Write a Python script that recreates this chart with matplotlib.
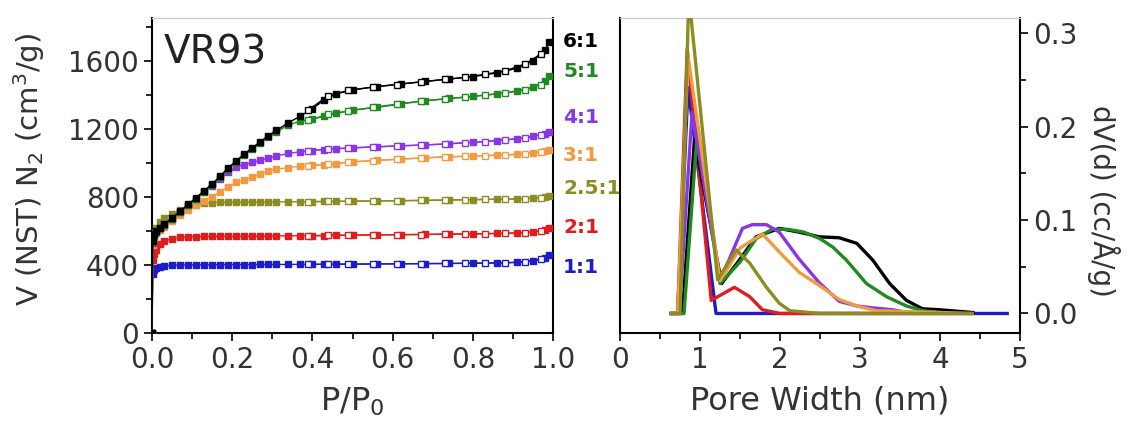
import matplotlib
matplotlib.use("Agg")
import matplotlib.pyplot as plt
from matplotlib.ticker import MultipleLocator

plt.rcParams['font.family'] = ['DejaVu Sans']

# N2 isotherms (relative pressure vs. uptake, cm3/g STP)
P_ADS = [0, .002, .005, .01, .02, .03, .05, .07, .09, .11, .13, .15, .17, .19,
         .21, .23, .25, .27, .29, .31, .34, .37, .40, .43, .46, .50, .56, .62,
         .68, .74, .80, .86, .91, .95, .98, .99]
P_DES = [.97, .93, .88, .83, .78, .73, .67, .61, .55, .49, .44, .39]

ADS_6 = [0, 540, 580, 600, 620, 640, 676, 716, 756, 796, 836, 876, 922, 970,
         1012, 1052, 1088, 1124, 1160, 1190, 1235, 1275, 1318, 1370, 1405, 1429,
         1447, 1463, 1478, 1492, 1506, 1528, 1555, 1600, 1660, 1712]
ADS_5 = [0, 535, 575, 595, 615, 635, 670, 710, 750, 790, 830, 870, 915, 962,
         1005, 1045, 1080, 1116, 1150, 1180, 1222, 1245, 1255, 1275, 1290, 1310,
         1325, 1345, 1365, 1378, 1390, 1405, 1420, 1445, 1480, 1510]
ADS_4 = [0, 530, 570, 595, 615, 635, 672, 710, 750, 790, 828, 866, 905, 945,
         975, 990, 1002, 1015, 1028, 1040, 1055, 1065, 1072, 1078, 1083, 1088,
         1094, 1100, 1105, 1112, 1120, 1130, 1140, 1155, 1170, 1182]
ADS_3 = [0, 520, 560, 585, 605, 625, 660, 695, 725, 752, 778, 800, 830, 860,
         885, 900, 918, 935, 952, 962, 972, 980, 985, 990, 996, 1006, 1015, 1022,
         1030, 1036, 1040, 1045, 1050, 1058, 1068, 1076]
ADS_25 = [0, 560, 590, 620, 655, 675, 700, 725, 745, 755, 762, 766, 768, 768,
          768, 768, 769, 769, 770, 770, 771, 771, 772, 773, 774, 775, 776, 778,
          780, 782, 784, 786, 788, 792, 800, 805]
ADS_2 = [0, 430, 465, 490, 525, 540, 555, 562, 565, 567, 568, 568, 569, 569,
         569, 570, 570, 570, 570, 571, 571, 572, 572, 573, 574, 575, 577, 578,
         580, 581, 583, 585, 588, 594, 605, 615]
ADS_1 = [0, 350, 370, 382, 390, 395, 398, 400, 400, 401, 401, 401, 402, 402,
         402, 402, 402, 403, 403, 403, 403, 404, 404, 404, 405, 405, 406, 407,
         408, 409, 410, 412, 415, 422, 440, 458]

DES_6 = [1640, 1580, 1540, 1520, 1502, 1490, 1475, 1460, 1445, 1425, 1395, 1310]
DES_5 = [1460, 1430, 1410, 1398, 1385, 1375, 1362, 1345, 1325, 1305, 1285, 1250]
DES_4 = [1165, 1148, 1135, 1125, 1118, 1110, 1104, 1099, 1093, 1087, 1080, 1070]
DES_3 = [1065, 1052, 1046, 1042, 1038, 1034, 1028, 1020, 1013, 1004, 994, 984]
DES_25 = [796, 790, 787, 785, 783, 781, 779, 777, 776, 774, 773, 772]
DES_2 = [600, 590, 586, 584, 582, 581, 579, 578, 577, 575, 574, 572]
DES_1 = [435, 418, 413, 411, 410, 409, 408, 407, 406, 405, 404, 404]

# pore size distributions (nm vs. dV(d))
W_6 = [0.64, 0.78, 0.93, 1.27, 1.49, 1.70, 1.99, 2.24, 2.49, 2.74, 2.96, 3.16,
       3.37, 3.58, 3.78, 3.99, 4.41]
D_6 = [0, 0, 0.186, 0.032, 0.057, 0.082, 0.091, 0.087, 0.082, 0.081, 0.075,
       0.057, 0.032, 0.014, 0.005, 0.004, 0.001]
W_5 = [0.70, 0.80, 0.97, 1.25, 1.50, 1.70, 1.90, 2.10, 2.30, 2.50, 2.66, 2.83,
       3.08, 3.33, 3.58, 3.78, 4.00]
D_5 = [0, 0, 0.200, 0.032, 0.055, 0.080, 0.090, 0.090, 0.087, 0.080, 0.071,
       0.057, 0.032, 0.018, 0.008, 0.003, 0.001]
W_4 = [0.66, 0.74, 0.90, 1.25, 1.53, 1.65, 1.83, 1.99, 2.24, 2.49, 2.74, 2.96,
       3.16, 3.40, 3.60]
D_4 = [0, 0, 0.215, 0.035, 0.091, 0.095, 0.095, 0.087, 0.058, 0.033, 0.013,
       0.008, 0.006, 0.004, 0.001]
W_3 = [0.64, 0.72, 0.85, 1.25, 1.50, 1.78, 2.00, 2.24, 2.49, 2.74, 2.96, 3.20, 4.40]
D_3 = [0, 0, 0.275, 0.035, 0.070, 0.085, 0.065, 0.044, 0.030, 0.015, 0.008,
       0.003, 0.0]
W_25 = [0.64, 0.75, 0.86, 1.22, 1.45, 1.62, 1.83, 1.99, 2.12, 2.50, 4.40]
D_25 = [0, 0, 0.34, 0.036, 0.068, 0.054, 0.028, 0.011, 0.003, 0.0, 0.0]
W_2 = [0.64, 0.72, 0.84, 1.14, 1.43, 1.62, 1.78, 2.00, 4.40]
D_2 = [0, 0, 0.283, 0.014, 0.028, 0.018, 0.004, 0.0, 0.0]
W_1 = [0.64, 0.72, 0.85, 1.20, 2.00, 4.84]
D_1 = [0, 0, 0.242, 0.0, 0.0, 0.0]

RATIOS = ['6:1', '5:1', '4:1', '3:1', '2.5:1', '2:1', '1:1']
COLORS = ['#000000', '#1f8a1f', '#8a35e8', '#f29a40', '#8c8c22', '#e01c1c', '#1c1cc8']
ADS = [ADS_6, ADS_5, ADS_4, ADS_3, ADS_25, ADS_2, ADS_1]
DES = [DES_6, DES_5, DES_4, DES_3, DES_25, DES_2, DES_1]
WIDTHS = [W_6, W_5, W_4, W_3, W_25, W_2, W_1]
DVD = [D_6, D_5, D_4, D_3, D_25, D_2, D_1]

TXT = '#333333'

fig = plt.figure(figsize=(11.3, 4.36), dpi=100)
ax1 = fig.add_axes([0.1345, 0.236, 0.3549, 0.7225])
ax2 = fig.add_axes([0.5487, 0.236, 0.354, 0.7225])

# isotherms, drawn bottom-up so the 6:1 curve sits on top
for i in reversed(range(len(RATIOS))):
    c = COLORS[i]
    ax1.plot(P_ADS, ADS[i], '-s', color=c, lw=1, ms=4.5, mec=c, mfc=c, zorder=3)
    ax1.plot(P_DES, DES[i], '-s', color=c, lw=1, ms=4.5, mec=c, mfc='white',
             mew=1, zorder=3)

ax1.set_xlim(0, 1.0)
ax1.set_ylim(0, 1850)
ax1.xaxis.set_major_locator(MultipleLocator(0.2))
ax1.xaxis.set_minor_locator(MultipleLocator(0.1))
ax1.yaxis.set_major_locator(MultipleLocator(400))
ax1.yaxis.set_minor_locator(MultipleLocator(200))
ax1.xaxis.set_major_formatter(lambda v, p: f'{v:.1f}')
ax1.tick_params(which='both', direction='out', labelsize=20, labelcolor=TXT, width=1.2)
ax1.tick_params(which='major', length=6)
ax1.tick_params(which='minor', length=4)
ax1.set_xlabel('P/P$_0$', fontsize=23, color=TXT, labelpad=8)
ax1.set_ylabel('V (NST) N$_2$ (cm$^3$/g)', fontsize=21, color=TXT)
ax1.yaxis.set_label_coords(-0.262, 0.52)
ax1.text(0.03, 0.89, 'VR93', transform=ax1.transAxes, fontsize=28,
         color='#222222', va='center')

# ratio labels between the two panels
label_y = [1712, 1535, 1265, 1041, 847, 618, 388]
for name, c, yv in zip(RATIOS, COLORS, label_y):
    ax1.text(1.025, yv, name, transform=ax1.get_yaxis_transform(), color=c,
             fontsize=14.5, fontweight='bold', va='center', ha='left', clip_on=False)

# pore size distributions
order = [6, 5, 0, 1, 2, 3, 4]
for i in order:
    ax2.plot(WIDTHS[i], DVD[i], '-', color=COLORS[i], lw=2.4, zorder=3)

ax2.set_xlim(0, 5)
ax2.set_ylim(-0.021, 0.316)
ax2.xaxis.set_major_locator(MultipleLocator(1))
ax2.xaxis.set_minor_locator(MultipleLocator(0.5))
ax2.yaxis.set_major_locator(MultipleLocator(0.1))
ax2.yaxis.set_minor_locator(MultipleLocator(0.05))
ax2.yaxis.set_major_formatter(lambda v, p: f'{v:.1f}')
ax2.yaxis.tick_right()
ax2.yaxis.set_label_position('right')
ax2.tick_params(which='both', direction='out', labelsize=20, labelcolor=TXT, width=1.2)
ax2.tick_params(which='major', length=6)
ax2.tick_params(which='minor', length=4)
ax2.set_xlabel('Pore Width (nm)', fontsize=23, color=TXT, labelpad=8)
ax2.set_ylabel('dV(d) (cc/Å/g)', fontsize=20, color=TXT, rotation=270)
ax2.yaxis.set_label_coords(1.25, 0.42)

for ax in (ax1, ax2):
    for s in ('left', 'right', 'bottom'):
        ax.spines[s].set_linewidth(1.5)
    ax.spines['top'].set_color('#cccccc')
    ax.spines['top'].set_linewidth(1)

fig.savefig('out.png', dpi=100)
